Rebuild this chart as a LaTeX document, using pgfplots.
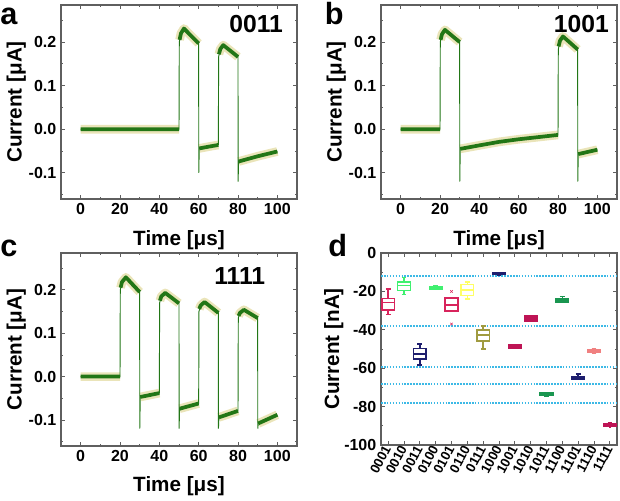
\documentclass[border=0pt]{standalone}
\usepackage{fontspec}
\setmainfont{Liberation Sans}
\usepackage{pgfplots}
\pgfplotsset{compat=1.18}
\usepgfplotslibrary{statistics}
\usepackage{pgfplotstable}

\definecolor{trgreen}{RGB}{34,118,22}
\definecolor{fuzz}{RGB}{200,185,70}
\definecolor{frame}{RGB}{95,95,95}
\definecolor{dotcyan}{RGB}{60,185,230}
\definecolor{cA}{RGB}{216,36,92}
\definecolor{cB}{RGB}{64,240,112}
\definecolor{cNavy}{RGB}{30,30,110}
\definecolor{cYel}{RGB}{255,255,100}
\definecolor{cOlive}{RGB}{160,155,64}
\definecolor{cMag}{RGB}{190,20,85}
\definecolor{cDkGreen}{RGB}{26,150,80}
\definecolor{cSalmon}{RGB}{240,128,128}

% ---------- panel a (0011) ----------
\pgfplotstableread{
t I
0 0
50 0
50.15 0.200
51 0.220
52.5 0.231
60 0.197
60.05 -0.100
60.3 -0.044
65 -0.040
70 -0.036
70.15 0.166
71 0.184
72.5 0.193
80 0.166
80.05 -0.120
80.3 -0.074
90 -0.062
100 -0.051
}\traceA
\pgfplotstableread{
t I
0 0
50 0
nan nan
50.3 0.205
51 0.220
52.5 0.231
60 0.197
nan nan
60.3 -0.044
65 -0.040
70 -0.036
nan nan
70.3 0.172
71 0.184
72.5 0.193
80 0.166
nan nan
80.3 -0.074
90 -0.062
100 -0.051
}\segA

% ---------- panel b (1001) ----------
\pgfplotstableread{
t I
0 0
20 0
20.15 0.200
21 0.218
22.5 0.228
30 0.200
30.05 -0.120
30.3 -0.045
40 -0.037
50 -0.029
60 -0.023
70 -0.018
80 -0.013
80.15 0.183
81 0.203
82.5 0.213
90 0.183
90.05 -0.120
90.3 -0.057
100 -0.047
}\traceB
\pgfplotstableread{
t I
0 0
20 0
nan nan
20.3 0.205
21 0.218
22.5 0.228
30 0.200
nan nan
30.3 -0.045
40 -0.037
50 -0.029
60 -0.023
70 -0.018
80 -0.013
nan nan
80.3 0.190
81 0.203
82.5 0.213
90 0.183
nan nan
90.3 -0.057
100 -0.047
}\segB

% ---------- panel c (1111) ----------
\pgfplotstableread{
t I
0 0
20 0
20.15 0.200
21 0.218
23 0.229
30 0.195
30.05 -0.120
30.3 -0.047
40 -0.038
40.15 0.170
41 0.185
43 0.193
50 0.169
50.05 -0.120
50.3 -0.074
60 -0.062
60.15 0.150
61 0.164
63 0.172
70 0.147
70.05 -0.120
70.3 -0.094
80 -0.079
80.15 0.135
81 0.147
83 0.154
90 0.135
90.05 -0.120
90.3 -0.108
100 -0.088
}\traceC
\pgfplotstableread{
t I
0 0
20 0
nan nan
20.3 0.205
21 0.218
23 0.229
30 0.195
nan nan
30.3 -0.047
40 -0.038
nan nan
40.3 0.175
41 0.185
43 0.193
50 0.169
nan nan
50.3 -0.074
60 -0.062
nan nan
60.3 0.156
61 0.164
63 0.172
70 0.147
nan nan
70.3 -0.094
80 -0.079
nan nan
80.3 0.140
81 0.147
83 0.154
90 0.135
nan nan
90.3 -0.108
100 -0.088
}\segC

\pgfplotsset{
  common/.style={
    scale only axis,
    tick align=inside,
    axis line style={draw=frame, line width=0.8pt},
    every tick/.style={draw=frame, line width=0.6pt},
    major tick length=3pt, minor tick length=1.8pt,
    ticklabel style={font=\fontsize{12}{12}\selectfont\bfseries},
    /pgf/number format/assume math mode=true,
    label style={font=\fontsize{15.5}{16}\selectfont\bfseries},
    ylabel style={at={(axis description cs:-0.19,0.5)}, anchor=center},
  },
  trace/.style={
    common,
    width=177pt,
    xmin=-10, xmax=110, ymin=-0.16, ymax=0.285,
    xtick={0,20,...,100}, minor xtick={10,30,...,90},
    ytick={-0.1,0,0.1,0.2}, minor ytick={-0.15,-0.05,0.05,0.15,0.25},
    yticklabel style={/pgf/number format/.cd, fixed, fixed zerofill, precision=1, /tikz/.cd},
    xlabel={Time [μs]}, ylabel={Current [μA]},
    xlabel style={at={(axis description cs:0.5,-0.21)}, anchor=center},
    unbounded coords=jump,
  },
  fuzzline/.style={no marks, draw=fuzz, opacity=0.38, line width=6.5pt, line join=round},
  thinline/.style={no marks, draw=trgreen, line width=0.7pt},
  thickline/.style={no marks, draw=trgreen, line width=2.8pt, line join=round},
}

\begin{document}
\begin{tikzpicture}
\path[use as bounding box] (0,0) rectangle (465pt,375pt);

% panel letters
\node[anchor=base west, inner sep=0pt, font=\fontsize{23}{23}\selectfont\bfseries] at (0pt,356.5pt) {a};
\node[anchor=base west, inner sep=0pt, font=\fontsize{23}{23}\selectfont\bfseries] at (243.5pt,356.5pt) {b};
\node[anchor=base west, inner sep=0pt, font=\fontsize{23}{23}\selectfont\bfseries] at (0pt,182.5pt) {c};
\node[anchor=base west, inner sep=0pt, font=\fontsize{23}{23}\selectfont\bfseries] at (246pt,182.5pt) {d};

% ---------------- a ----------------
\begin{axis}[trace, height=145.5pt, at={(45.75pt,225.75pt)}, anchor=south west]
\addplot[fuzzline] table[x=t,y=I]{\segA};
\addplot[thinline] table[x=t,y=I]{\traceA};
\addplot[thickline] table[x=t,y=I]{\segA};
\node[anchor=north east, font=\fontsize{18.5}{19}\selectfont\bfseries] at (rel axis cs:0.96,0.97) {0011};
\end{axis}

% ---------------- b ----------------
\begin{axis}[trace, height=145.5pt, at={(285.75pt,225.75pt)}, anchor=south west]
\addplot[fuzzline] table[x=t,y=I]{\segB};
\addplot[thinline] table[x=t,y=I]{\traceB};
\addplot[thickline] table[x=t,y=I]{\segB};
\node[anchor=north east, font=\fontsize{18.5}{19}\selectfont\bfseries] at (rel axis cs:0.985,0.97) {1001};
\end{axis}

% ---------------- c ----------------
\begin{axis}[trace, height=144.75pt, at={(45.75pt,40.5pt)}, anchor=south west]
\addplot[fuzzline] table[x=t,y=I]{\segC};
\addplot[thinline] table[x=t,y=I]{\traceC};
\addplot[thickline] table[x=t,y=I]{\segC};
\node[anchor=north east, font=\fontsize{18.5}{19}\selectfont\bfseries] at (rel axis cs:0.885,0.95) {1111};
\end{axis}

% ---------------- d ----------------
\begin{axis}[common, width=177pt, height=144pt, at={(285.75pt,41.25pt)}, anchor=south west,
  xmin=-0.45, xmax=14.45, ymin=-100, ymax=0,
  xtick={0,...,14},
  xticklabels={0001,0010,0011,0100,0101,0110,0111,1000,1001,1010,1011,1100,1101,1110,1111},
  xticklabel style={rotate=62, anchor=east, inner sep=1pt, font=\fontsize{10}{10}\selectfont\bfseries},
  ytick={-100,-80,...,0}, minor ytick={-90,-70,...,-10},
  ylabel={Current [nA]},
  ylabel style={at={(axis description cs:-0.2,0.5)}, anchor=center},
  boxplot/draw direction=y,
  boxplot/box extend=0.8, boxplot/whisker extend=0.3,
]
\addplot[draw=dotcyan, densely dotted, line width=1.2pt] coordinates {(-0.45,-12)(14.45,-12)};
\addplot[draw=dotcyan, densely dotted, line width=1.2pt] coordinates {(-0.45,-38)(14.45,-38)};
\addplot[draw=dotcyan, densely dotted, line width=1.2pt] coordinates {(-0.45,-59.3)(14.45,-59.3)};
\addplot[draw=dotcyan, densely dotted, line width=1.2pt] coordinates {(-0.45,-68.3)(14.45,-68.3)};
\addplot[draw=dotcyan, densely dotted, line width=1.2pt] coordinates {(-0.45,-78)(14.45,-78)};

\addplot+[boxplot prepared={draw position=0, lower whisker=-32, lower quartile=-29.6, median=-25.8, upper quartile=-23.8, upper whisker=-18.8}, draw=cA, mark=none, solid, line width=1.1pt] coordinates {};
\addplot+[boxplot prepared={draw position=1, lower whisker=-21.7, lower quartile=-19.5, median=-17, upper quartile=-15.1, upper whisker=-12.7}, draw=cB, mark=none, solid, line width=1.1pt] coordinates {};
\addplot+[boxplot prepared={draw position=2, lower whisker=-58.3, lower quartile=-55.1, median=-52.5, upper quartile=-49.6, upper whisker=-47.5}, draw=cNavy, mark=none, solid, line width=1.1pt] coordinates {};
\addplot+[boxplot prepared={draw position=3, lower whisker=-19, lower quartile=-18.8, median=-18.1, upper quartile=-17.5, upper whisker=-17.2}, draw=cB, fill=cB, mark=none, solid, line width=1.1pt] coordinates {};
\addplot+[boxplot prepared={draw position=4, lower whisker=-30.1, lower quartile=-30.1, median=-27, upper quartile=-23.5, upper whisker=-23.5}, draw=cA, mark=none, solid, line width=1.1pt] coordinates {};
\addplot[only marks, mark=x, mark size=1.3pt, color=cA] coordinates {(4,-20)(4,-37)};
\addplot+[boxplot prepared={draw position=5, lower whisker=-23.9, lower quartile=-22.1, median=-19.2, upper quartile=-16.5, upper whisker=-15.1}, draw=cYel, mark=none, solid, line width=1.1pt] coordinates {};
\addplot+[boxplot prepared={draw position=6, lower whisker=-50, lower quartile=-45.8, median=-42.6, upper quartile=-40, upper whisker=-37.9}, draw=cOlive, mark=none, solid, line width=1.1pt] coordinates {};
\addplot+[boxplot prepared={draw position=7, lower whisker=-11.4, lower quartile=-11.3, median=-10.8, upper quartile=-10.3, upper whisker=-10.2}, draw=cNavy, fill=cNavy, mark=none, solid, line width=1.1pt] coordinates {};
\addplot+[boxplot prepared={draw position=8, lower whisker=-49.8, lower quartile=-49.6, median=-48.7, upper quartile=-47.8, upper whisker=-47.6}, draw=cMag, fill=cMag, mark=none, solid, line width=1.1pt] coordinates {};
\addplot+[boxplot prepared={draw position=9, lower whisker=-35.6, lower quartile=-35.3, median=-34, upper quartile=-32.9, upper whisker=-32.5}, draw=cMag, fill=cMag, mark=none, solid, line width=1.1pt] coordinates {};
\addplot+[boxplot prepared={draw position=10, lower whisker=-74.4, lower quartile=-74.3, median=-73.6, upper quartile=-72.9, upper whisker=-72.8}, draw=cDkGreen, fill=cDkGreen, mark=none, solid, line width=1.1pt] coordinates {};
\addplot+[boxplot prepared={draw position=11, lower whisker=-25.5, lower quartile=-25.4, median=-24.7, upper quartile=-24, upper whisker=-22.6}, draw=cDkGreen, fill=cDkGreen, mark=none, solid, line width=1.1pt] coordinates {};
\addplot+[boxplot prepared={draw position=12, lower whisker=-65.7, lower quartile=-65.6, median=-64.9, upper quartile=-64.3, upper whisker=-63}, draw=cNavy, fill=cNavy, mark=none, solid, line width=1.1pt] coordinates {};
\addplot+[boxplot prepared={draw position=13, lower whisker=-52.2, lower quartile=-51.8, median=-51, upper quartile=-50.3, upper whisker=-49.8}, draw=cSalmon, fill=cSalmon, mark=none, solid, line width=1.1pt] coordinates {};
\addplot+[boxplot prepared={draw position=14, lower whisker=-90.5, lower quartile=-90.4, median=-89.6, upper quartile=-88.8, upper whisker=-88.6}, draw=cMag, fill=cMag, mark=none, solid, line width=1.1pt] coordinates {};
\end{axis}
\end{tikzpicture}
\end{document}
